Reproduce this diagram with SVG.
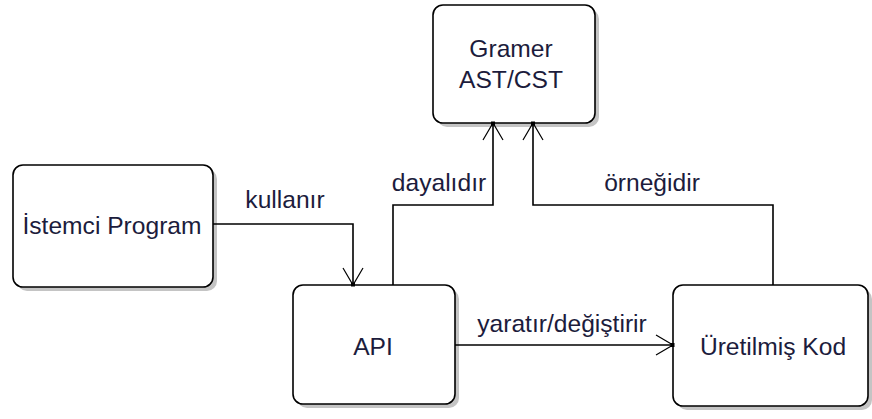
<svg xmlns="http://www.w3.org/2000/svg" width="872" height="419" viewBox="0 0 872 419">
<defs>
<style>
.shadow{fill:#c4c4c4;stroke:none}
.box{fill:#ffffff;stroke:#000000;stroke-width:1.6}
.lbl{font-family:"Liberation Sans",Arial,sans-serif;font-size:24.6px;fill:#1c1c3c;text-anchor:middle}
.conn{fill:none;stroke:#000000;stroke-width:1.6}
</style>
<marker id="arr" markerUnits="userSpaceOnUse" markerWidth="24" markerHeight="24" viewBox="-20 -12 24 24" refX="0" refY="0" orient="auto">
<path d="M-17,-10 L0,0 L-17,10" fill="none" stroke="#000" stroke-width="1.2"/>
<rect x="-2.5" y="-2" width="4" height="4" fill="#000"/>
</marker>
</defs>
<rect width="872" height="419" fill="#ffffff"/>

<g id="gramer">
<rect class="shadow" x="437" y="9" width="162" height="118" rx="10"/>
<rect class="box" x="433" y="5" width="162" height="118" rx="10"/>
<text class="lbl" x="511" y="57">Gramer</text>
<text class="lbl" x="511" y="88">AST/CST</text>
</g>

<g id="istemci">
<rect class="shadow" x="17" y="169" width="200" height="122" rx="10"/>
<rect class="box" x="13" y="165" width="200" height="122" rx="10"/>
<text class="lbl" x="112" y="234">İstemci Program</text>
</g>

<g id="api">
<rect class="shadow" x="297" y="289" width="162" height="119" rx="10"/>
<rect class="box" x="293" y="285" width="162" height="119" rx="10"/>
<text class="lbl" x="373" y="355">API</text>
</g>

<g id="uretilmis">
<rect class="shadow" x="677" y="289" width="195" height="121" rx="10"/>
<rect class="box" x="673" y="285" width="195" height="121" rx="10"/>
<text class="lbl" x="773" y="355">Üretilmiş Kod</text>
</g>

<g id="connectors">
<polyline class="conn" points="213,224 353,224 353,285" marker-end="url(#arr)"/>
<text class="lbl" x="285" y="208">kullanır</text>
<polyline class="conn" points="393,285 393,205 493,205 493,123" marker-end="url(#arr)"/>
<text class="lbl" x="439" y="191">dayalıdır</text>
<polyline class="conn" points="773,285 773,205 533,205 533,123" marker-end="url(#arr)"/>
<text class="lbl" x="652" y="191">örneğidir</text>
<polyline class="conn" points="455,345 673,345" marker-end="url(#arr)"/>
<text class="lbl" x="562" y="332">yaratır/değiştirir</text>
</g>
</svg>
